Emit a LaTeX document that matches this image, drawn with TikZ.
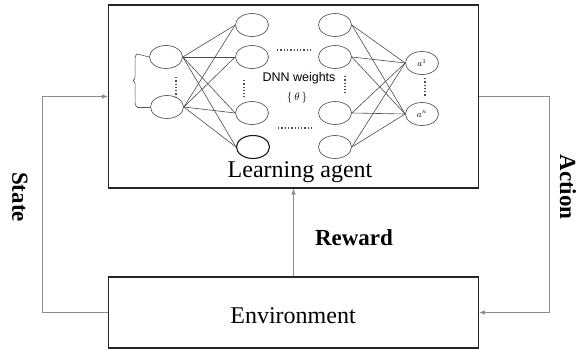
\documentclass[tikz,border=0pt]{standalone}
\usepackage{fontspec}
\setmainfont{Liberation Serif}
\newfontfamily\dnnfont{Liberation Sans}
\usepackage{tikz}
\usetikzlibrary{arrows.meta,shapes.geometric,decorations.pathreplacing,positioning,calc}

\begin{document}
\begin{tikzpicture}[x=1pt,y=-1pt,
    box/.style={draw=black!85,line width=1.1pt,inner sep=0pt},
    fb/.style={draw=black!45,line width=.8pt,-{Latex[length=6pt,width=4.5pt]}},
    neuron/.style={ellipse,draw=black!65,line width=.7pt,minimum width=33pt,minimum height=23pt,inner sep=0pt},
    wire/.style={draw=black!70,line width=.6pt},
    dots/.style={draw=black!70,line width=1.3pt,dotted},
    big/.style={font=\fontsize{24}{28}\selectfont},
    bigb/.style={font=\fontsize{23}{28}\selectfont\bfseries}]
      \useasboundingbox (0,0) rectangle (580,350);

      \node[box,minimum width=370pt,minimum height=183pt] (agent) at (293.5,96.5) {};
      \node[box,minimum width=370pt,minimum height=71pt] (env) at (293.5,312.5) {};
      \node[big,anchor=base] (agentlbl) at (300,177) {Learning agent};
      \node[big,anchor=base] (envlbl) at (293,323) {Environment};

      \node[neuron] (i1) at (166,57) {};
      \node[neuron] (i2) at (167,107) {};
      \node[neuron] (h1) at (252,25) {};
      \node[neuron] (h2) at (252,57) {};
      \node[neuron] (h3) at (252,113) {};
      \node[neuron,draw=black!90,line width=1.1pt] (h4) at (253,147) {};
      \node[neuron] (g1) at (335,25) {};
      \node[neuron] (g2) at (335,57) {};
      \node[neuron] (g3) at (335,113) {};
      \node[neuron] (g4) at (335,147) {};
      \node[neuron] (o1) at (422,63) {\fontsize{9}{9}\selectfont$a^1$};
      \node[neuron] (o2) at (422,114) {\fontsize{9}{9}\selectfont$a^n$};

      \foreach \a in {i1,i2}
        \foreach \b in {h1,h2,h3,h4}
          \draw[wire] (\a.east) -- (\b.west);
      \foreach \a in {g1,g2,g3,g4}
        \foreach \b in {o1,o2}
          \draw[wire] (\a.east) -- (\b.west);

      \draw[dots] (277,50) -- (311,50);
      \draw[dots] (278,128) -- (312,128);
      \draw[dots] (176,77) -- (176,97);
      \draw[dots] (244,80) -- (244,97);
      \draw[dots] (345,76) -- (345,93);
      \draw[dots] (425,78) -- (425,96);

      \draw[black!65,line width=.6pt] (i1.west) -- ++(-12,-3) coordinate (bt);
      \draw[black!65,line width=.6pt] (i2.west) -- ++(-13,0) coordinate (bb);
      \draw[black!65,line width=.6pt,decorate,decoration={brace,amplitude=4pt}] (bb) -- (bt);

      \node[font=\dnnfont\fontsize{12.5}{14}\selectfont,anchor=base] (dnn) at (299,82) {DNN weights};
      \node[font=\fontsize{11}{12}\selectfont,anchor=base] (theta) at (297,100) {$\{\,\theta\,\}$};

      \draw[fb] (env.west) -- ++(-66,0) |- (agent.west);
      \draw[fb] (agent.east) -- ++(70,0) |- (env.east);
      \draw[fb] (env.north) -- (agent.south);

      \node[bigb,rotate=-90] (state) at (20,197) {State};
      \node[bigb,rotate=-90] (action) at (568,187) {Action};
      \node[bigb,anchor=base] (reward) at (354,245) {Reward};
    \end{tikzpicture}
\end{document}
